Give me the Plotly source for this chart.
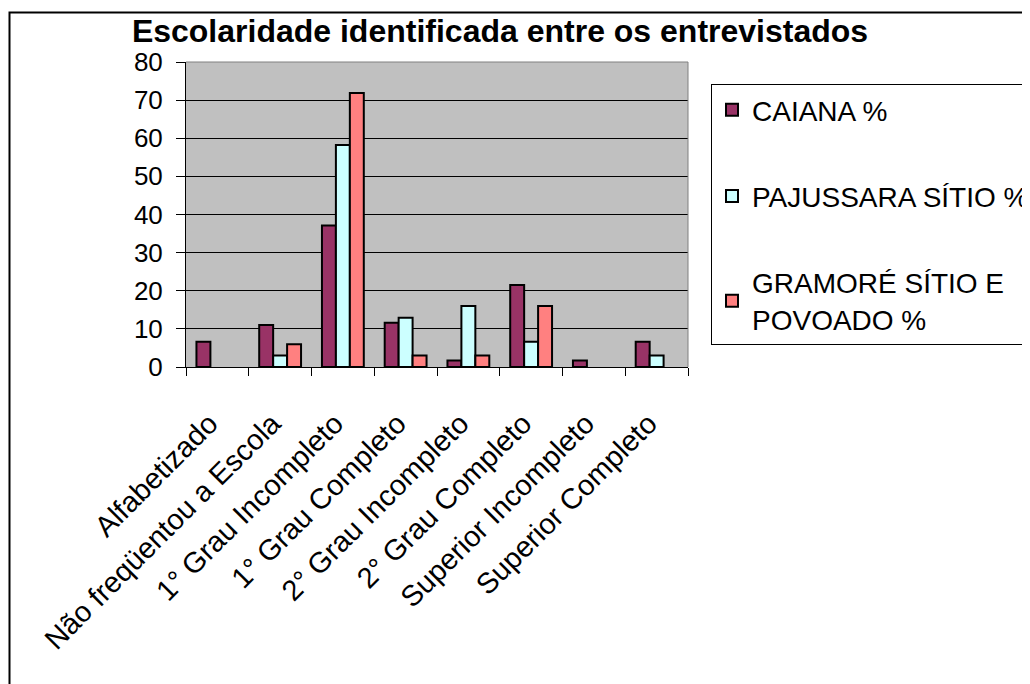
import plotly.graph_objects as go

categories = ["Alfabetizado", "Não freqüentou a Escola", "1° Grau Incompleto",
              "1° Grau Completo", "2° Grau Incompleto", "2° Grau Completo",
              "Superior Incompleto", "Superior Completo"]
caiana = [6.6, 11.0, 37.1, 11.6, 1.7, 21.5, 1.7, 6.6]
pajussara = [0, 3.0, 58.2, 12.9, 16.0, 6.6, 0, 3.0]
gramore = [0, 6.0, 71.9, 3.0, 3.0, 16.0, 0, 0]
series_names = ["CAIANA %", "PAJUSSARA SÍTIO %", "GRAMORÉ SÍTIO E<br>POVOADO %"]
colors = ["#993366", "#CCFFFF", "#FF8080"]
y_ticks = [0, 10, 20, 30, 40, 50, 60, 70, 80]

FONT = "Liberation Sans, Arial, sans-serif"

fig = go.Figure()
for name, vals, col in zip(series_names, [caiana, pajussara, gramore], colors):
    fig.add_trace(go.Bar(
        x=categories, y=[v if v > 0 else None for v in vals], name=name,
        marker=dict(color=col, line=dict(color="black", width=2)),
        legendgroup=name,
    ))

W, H = 1030, 684
L, T = 178, 54
pw, ph = 502, 305
R = W - L - pw
B = H - T - ph

def px_x(x):  # figure pixel -> paper x
    return (x - L) / pw

def px_y(y):  # figure pixel -> paper y
    return (T + ph - y) / ph

fig.update_layout(
    width=W, height=H,
    margin=dict(l=L, r=R, t=T, b=B, pad=0, autoexpand=False),
    paper_bgcolor="white",
    plot_bgcolor="#C0C0C0",
    barmode="group",
    bargap=0.333,
    bargroupgap=0,
    font=dict(family=FONT, size=26, color="black"),
    title=dict(text="<b>Escolaridade identificada entre os entrevistados</b>",
               x=492 / W, xanchor="center", y=1 - 23 / H, yanchor="middle",
               font=dict(family=FONT, size=32, color="black")),
    showlegend=True,
    legend=dict(
        x=px_x(703), xanchor="left",
        y=px_y(76), yanchor="top",
        bordercolor="black", borderwidth=1, bgcolor="white",
        font=dict(family=FONT, size=28, color="black"),
        tracegroupgap=47,
        traceorder="grouped",
        itemwidth=30,
    ),
    xaxis=dict(
        type="category", tickangle=-45, ticks="outside", tickson="boundaries",
        ticklen=8, tickcolor="black", showline=True, linecolor="black",
        linewidth=1, showgrid=False, tickfont=dict(size=29),
        range=[-0.5, 7.5], ticklabelstandoff=27, ticklabelshift=-8,
    ),
    yaxis=dict(
        range=[0, 80], tickvals=y_ticks, ticks="outside", ticklen=9,
        tickcolor="black", showline=True, linecolor="black", linewidth=1,
        showgrid=True, gridcolor="black", gridwidth=1, zeroline=False,
        tickfont=dict(size=26), ticklabelstandoff=8,
    ),
    shapes=[
        dict(type="line", xref="paper", yref="paper", x0=0, x1=1, y0=1, y1=1,
             line=dict(color="#808080", width=1)),
        dict(type="line", xref="paper", yref="paper", x0=1, x1=1, y0=0, y1=1,
             line=dict(color="#808080", width=1)),
        dict(type="rect", xref="paper", yref="paper",
             x0=px_x(1.5), x1=px_x(W + 30),
             y0=px_y(H + 30), y1=px_y(4.5),
             line=dict(color="black", width=2), layer="below"),
    ],
)

fig.write_html("out.html")
